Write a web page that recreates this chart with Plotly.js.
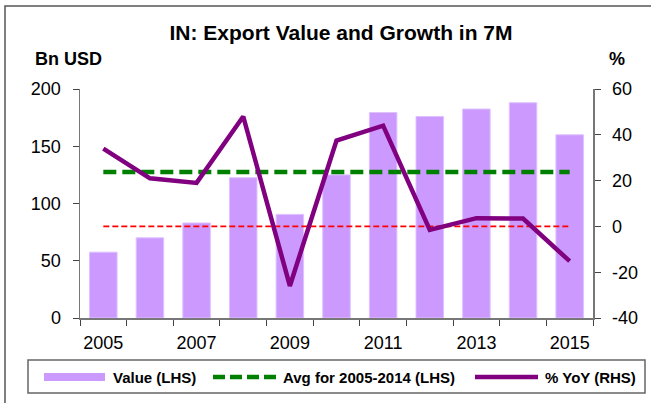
<!DOCTYPE html>
<html>
<head>
<meta charset="utf-8">
<script src="https://cdn.plot.ly/plotly-3.0.1.min.js"></script>
<style>html,body{margin:0;padding:0;background:#fff;}#chart{width:651px;height:403px;}</style>
</head>
<body>
<div id="chart"></div>
<script>
// ---- data ----
var years = [2005, 2006, 2007, 2008, 2009, 2010, 2011, 2012, 2013, 2014, 2015];
var exportValue = [57.5, 70, 83, 122.5, 90.5, 125, 179.5, 176, 182.5, 188, 160];
var avgValue = [127.5, 127.5, 127.5, 127.5, 127.5, 127.5, 127.5, 127.5, 127.5, 127.5, 127.5];
var yoyValue = [34, 21, 19, 48, -26, 37.5, 44, -1.5, 3.6, 3.4, -15.2];
var zeroLine = [0, 0, 0, 0, 0, 0, 0, 0, 0, 0, 0];
var xTickLabels = ['2005', '2007', '2009', '2011', '2013', '2015'];
var xTickVals = [2005, 2007, 2009, 2011, 2013, 2015];
var y2TickVals = [-40, -20, 0, 20, 40, 60];
var y2TickLabels = ['-40', '-20', '0', '20', '40', '60'];
var legendNames = ['Value (LHS)', 'Avg for 2005-2014 (LHS)', '% YoY (RHS)'];

// ---- layout helpers (pixel -> paper) ----
var W = 651, H = 403, L = 80, R = 58, T = 89, B = 85;
var PW = W - L - R, PH = H - T - B;
function px(x) { return (x - L) / PW; }
function py(y) { return (H - B - y) / PH; }

var FONT = 'Liberation Sans, Arial, sans-serif';

var traces = [
  {type: 'bar', x: years, y: exportValue, width: 0.59, name: legendNames[0],
   marker: {color: '#CC99FF', line: {color: '#DEC2FF', width: 1}}, yaxis: 'y', hoverinfo: 'x+y'},
  {type: 'scatter', mode: 'lines', x: years, y: zeroLine, yaxis: 'y2',
   line: {color: '#FF0000', width: 1.6, dash: '6px,3px'}, showlegend: false, hoverinfo: 'skip'},
  {type: 'scatter', mode: 'lines', x: years, y: avgValue, name: legendNames[1], yaxis: 'y',
   line: {color: '#008000', width: 4.5, dash: '13px,6px'}},
  {type: 'scatter', mode: 'lines', x: years, y: yoyValue, name: legendNames[2], yaxis: 'y2',
   line: {color: '#800080', width: 4.5}}
];

var shapes = [
  // outer frame
  {type: 'rect', xref: 'paper', yref: 'paper', x0: px(5), x1: px(700), y0: py(6), y1: py(450),
   line: {color: '#555555', width: 1.5}, layer: 'below'},
  // legend box
  {type: 'rect', xref: 'paper', yref: 'paper', x0: px(28), x1: px(645), y0: py(360), y1: py(393),
   line: {color: '#666666', width: 1.5}},
  // legend swatches
  {type: 'rect', xref: 'paper', yref: 'paper', x0: px(44), x1: px(105), y0: py(373), y1: py(381),
   fillcolor: '#CC99FF', line: {width: 0}},
  {type: 'line', xref: 'paper', yref: 'paper', x0: px(213), x1: px(276), y0: py(377), y1: py(377),
   line: {color: '#008000', width: 4.5, dash: '12px,5px'}},
  {type: 'line', xref: 'paper', yref: 'paper', x0: px(475), x1: px(538), y0: py(377), y1: py(377),
   line: {color: '#800080', width: 4.5}}
];

var annotations = [
  {text: '<b>Bn USD</b>', xref: 'paper', yref: 'paper', x: px(33), y: py(59), xanchor: 'left', yanchor: 'middle',
   showarrow: false, font: {family: FONT, size: 18, color: '#000'}},
  {text: '<b>%</b>', xref: 'paper', yref: 'paper', x: px(607), y: py(59), xanchor: 'left', yanchor: 'middle',
   showarrow: false, font: {family: FONT, size: 18, color: '#000'}},
  {text: '<b>' + legendNames[0] + '</b>', xref: 'paper', yref: 'paper', x: px(111), y: py(377), xanchor: 'left', yanchor: 'middle',
   showarrow: false, font: {family: FONT, size: 15, color: '#000'}},
  {text: '<b>' + legendNames[1] + '</b>', xref: 'paper', yref: 'paper', x: px(281), y: py(377), xanchor: 'left', yanchor: 'middle',
   showarrow: false, font: {family: FONT, size: 15, color: '#000'}},
  {text: '<b>' + legendNames[2] + '</b>', xref: 'paper', yref: 'paper', x: px(543), y: py(377), xanchor: 'left', yanchor: 'middle',
   showarrow: false, font: {family: FONT, size: 15, color: '#000'}}
];

var layout = {
  width: W, height: H,
  margin: {l: L, r: R, t: T, b: B, pad: 0},
  paper_bgcolor: '#fff', plot_bgcolor: '#fff',
  showlegend: false,
  font: {family: FONT, size: 18, color: '#000'},
  title: {text: '<b>IN: Export Value and Growth in 7M</b>', font: {family: FONT, size: 21, color: '#000'},
          xref: 'container', yref: 'container', x: 341 / W, y: 1 - 33 / H, xanchor: 'center', yanchor: 'middle'},
  xaxis: {range: [2004.5, 2015.5], tickmode: 'array', tickvals: xTickVals, ticktext: xTickLabels,
          ticks: '', showgrid: false, zeroline: false, showline: true, linecolor: '#777', linewidth: 1.5,
          ticklabelstandoff: 8,
          minor: {tick0: 2004.5, dtick: 1, ticks: 'outside', ticklen: 6, tickcolor: '#444', tickwidth: 1, showgrid: false},
          tickfont: {family: FONT, size: 18, color: '#000'}, fixedrange: true},
  yaxis: {range: [0, 200], dtick: 50, ticks: 'outside', ticklen: 6, tickcolor: '#444', tickwidth: 1,
          showgrid: false, zeroline: false, showline: true, linecolor: '#777', linewidth: 1.5,
          ticklabelstandoff: 8, tickfont: {family: FONT, size: 18, color: '#000'}},
  yaxis2: {range: [-40, 60], tickmode: 'array', tickvals: y2TickVals, ticktext: y2TickLabels,
           overlaying: 'y', side: 'right', ticks: 'outside', ticklen: 6,
           tickcolor: '#444', tickwidth: 1, showgrid: false, zeroline: false, showline: true,
           linecolor: '#777', linewidth: 1.5, ticklabelstandoff: 8,
           tickfont: {family: FONT, size: 18, color: '#000'}},
  shapes: shapes,
  annotations: annotations
};

Plotly.newPlot('chart', traces, layout, {displayModeBar: false, staticPlot: true});
</script>
</body>
</html>
